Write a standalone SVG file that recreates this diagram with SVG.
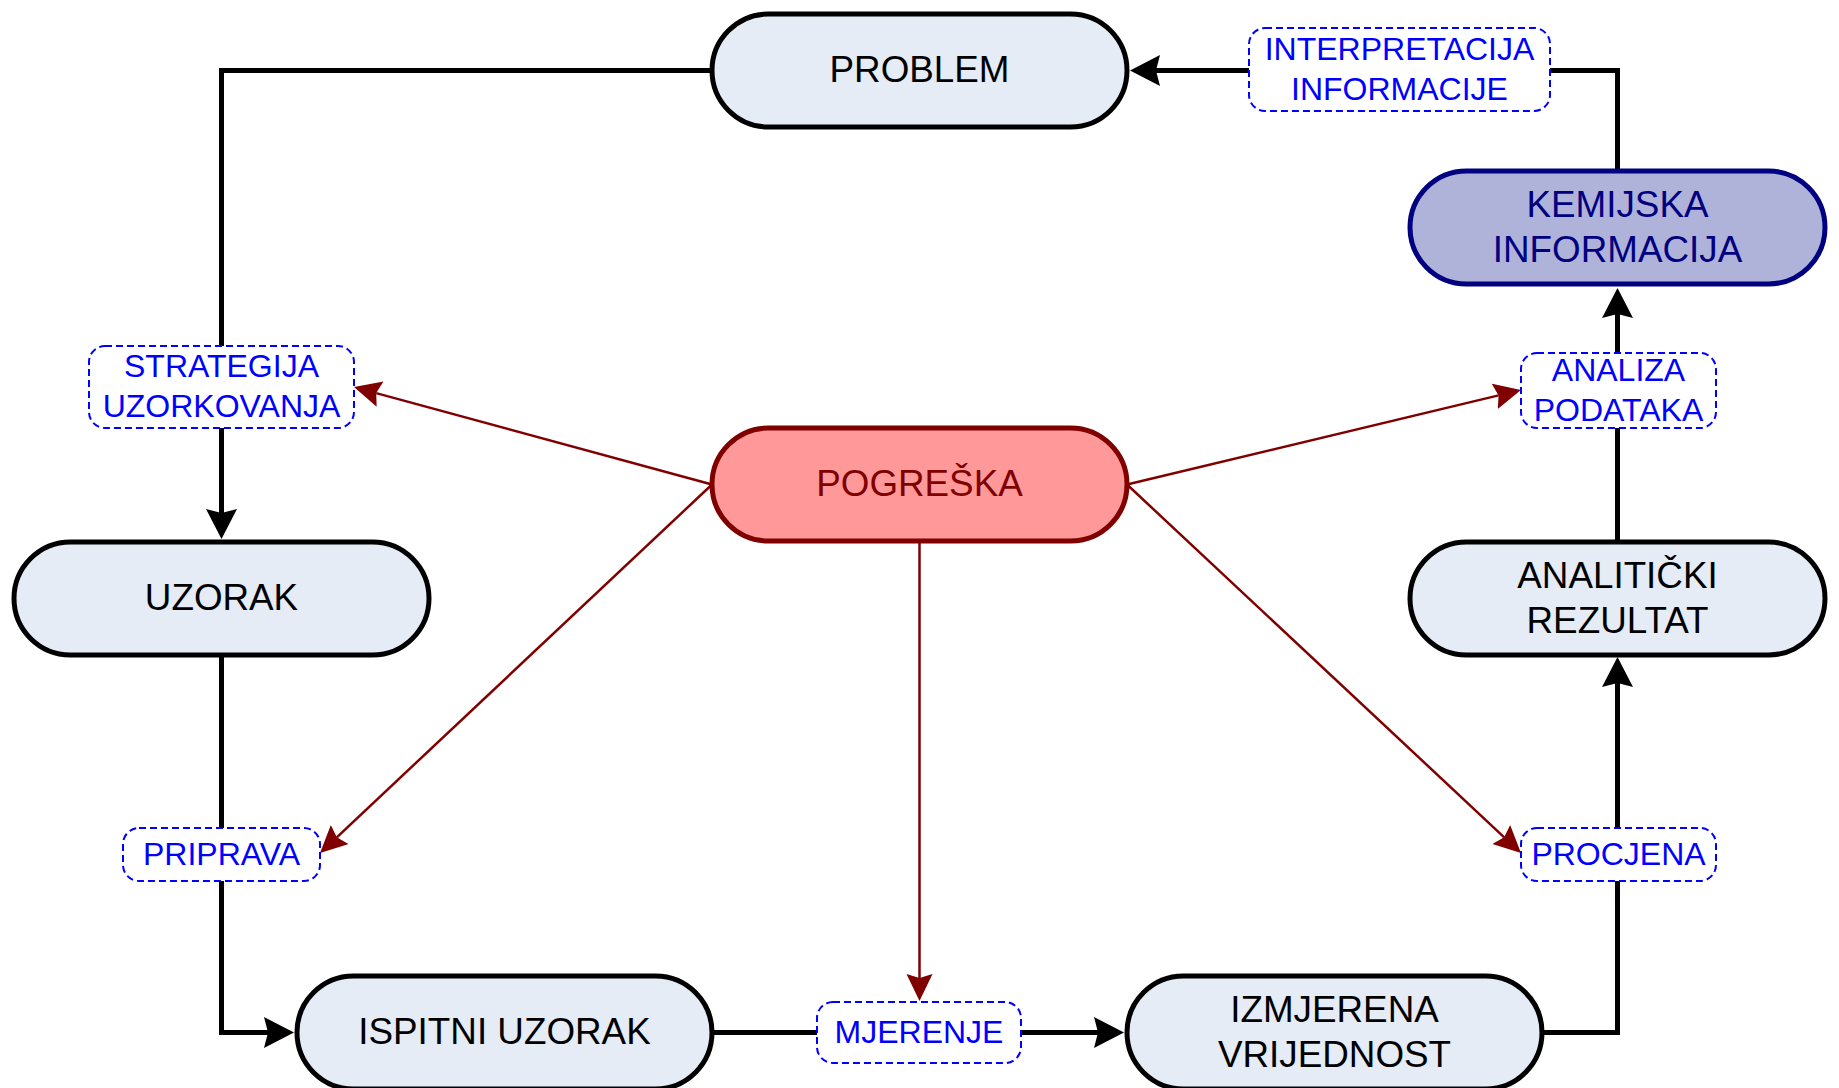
<svg xmlns="http://www.w3.org/2000/svg" width="1839" height="1088" viewBox="0 0 1839 1088">
<style>
text{font-family:"Liberation Sans",Arial,Helvetica,sans-serif;text-anchor:middle}
.node rect{fill:#E5ECF6;stroke:#000;stroke-width:5}
.node text{font-size:36.8px;fill:#000}
.info rect{fill:#B0B3D9;stroke:#000080}
.info text{fill:#000080}
.err rect{fill:#FF9999;stroke:#800000}
.err text{fill:#800000}
.lbl rect{fill:#fff;stroke:#0000FF;stroke-width:2;stroke-dasharray:7 4}
.lbl text{font-size:32px;fill:#0000FF}
.flow{fill:none;stroke:#000;stroke-width:5;marker-end:url(#ab)}
.errl{fill:none;stroke:#800000;stroke-width:2.5;marker-end:url(#ar)}
</style>
<defs>
<marker id="ab" markerUnits="userSpaceOnUse" markerWidth="32" markerHeight="32" refX="4" refY="15.5" orient="auto">
<path d="M0,0 L30,15.5 L0,31 L4,15.5 Z" fill="#000"/>
</marker>
<marker id="ar" markerUnits="userSpaceOnUse" markerWidth="28" markerHeight="27" refX="4" refY="13" orient="auto">
<path d="M0,0 L27,13 L0,26 L4,13 Z" fill="#800000"/>
</marker>
</defs>
<rect width="1839" height="1088" fill="#fff"/>
<g id="connectors">
<path class="flow" d="M712,70.5 H221.5 V513"/>
<path class="flow" d="M221.5,654 V1032.5 H268"/>
<path class="flow" d="M712,1032.5 H1098"/>
<path class="flow" d="M1542,1032.5 H1617.5 V683"/>
<path class="flow" d="M1617.5,542 V314"/>
<path class="flow" d="M1617.5,171 V70.5 H1156"/>
<path class="errl" d="M712,484.5 L376.2,393.1"/>
<path class="errl" d="M712,484.5 L336.8,837.3"/>
<path class="errl" d="M919.5,541 L919.5,978"/>
<path class="errl" d="M1127,484.5 L1498.6,395.4"/>
<path class="errl" d="M1127,484.5 L1504.2,837.3"/>
</g>
<g id="problem" class="node"><rect x="712" y="14" width="415" height="113" rx="56.5"/><text x="919.5" y="82">PROBLEM</text></g>
<g id="kemijska-informacija" class="node info"><rect x="1410" y="171" width="415" height="113" rx="56.5"/><text x="1617.5" y="216.5">KEMIJSKA</text><text x="1617.5" y="261.5">INFORMACIJA</text></g>
<g id="pogreska" class="node err"><rect x="712" y="428" width="415" height="113" rx="56.5"/><text x="919.5" y="496">POGREŠKA</text></g>
<g id="uzorak" class="node"><rect x="14" y="542" width="415" height="113" rx="56.5"/><text x="221.5" y="610">UZORAK</text></g>
<g id="analiticki-rezultat" class="node"><rect x="1410" y="542" width="415" height="113" rx="56.5"/><text x="1617.5" y="587.5">ANALITIČKI</text><text x="1617.5" y="632.5">REZULTAT</text></g>
<g id="ispitni-uzorak" class="node"><rect x="297" y="976" width="415" height="113" rx="56.5"/><text x="504.5" y="1044">ISPITNI UZORAK</text></g>
<g id="izmjerena-vrijednost" class="node"><rect x="1127" y="976" width="415" height="113" rx="56.5"/><text x="1334.5" y="1021.5">IZMJERENA</text><text x="1334.5" y="1066.5">VRIJEDNOST</text></g>
<g id="lbl-interpretacija" class="lbl"><rect x="1249" y="28" width="301" height="83" rx="16"/><text x="1399.5" y="59.5">INTERPRETACIJA</text><text x="1399.5" y="99.5">INFORMACIJE</text></g>
<g id="lbl-strategija" class="lbl"><rect x="89" y="346" width="265" height="82" rx="16"/><text x="221.5" y="377">STRATEGIJA</text><text x="221.5" y="417">UZORKOVANJA</text></g>
<g id="lbl-analiza" class="lbl"><rect x="1521" y="353" width="195" height="75" rx="16"/><text x="1618.5" y="380.5">ANALIZA</text><text x="1618.5" y="420.5">PODATAKA</text></g>
<g id="lbl-priprava" class="lbl"><rect x="123" y="828" width="197" height="53" rx="16"/><text x="221.5" y="864.5">PRIPRAVA</text></g>
<g id="lbl-procjena" class="lbl"><rect x="1521" y="828" width="195" height="53" rx="16"/><text x="1618.5" y="864.5">PROCJENA</text></g>
<g id="lbl-mjerenje" class="lbl"><rect x="817" y="1002" width="204" height="61" rx="16"/><text x="919" y="1042.5">MJERENJE</text></g>
</svg>
